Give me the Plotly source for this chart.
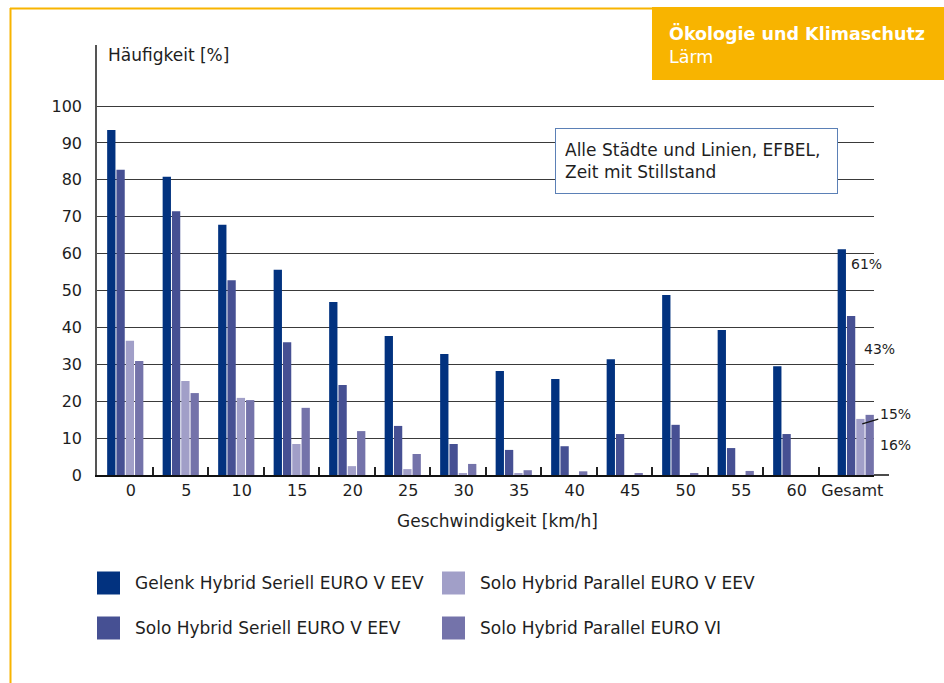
import plotly.graph_objects as go

categories = ["0", "5", "10", "15", "20", "25", "30", "35", "40", "45", "50", "55", "60", "Gesamt"]
series_names = [
    "Gelenk Hybrid Seriell EURO V EEV",
    "Solo Hybrid Seriell EURO V EEV",
    "Solo Hybrid Parallel EURO V EEV",
    "Solo Hybrid Parallel EURO VI",
]
gelenk_seriell = [93.5, 80.8, 67.8, 55.6, 46.9, 37.7, 32.8, 28.2, 26.0, 31.4, 48.8, 39.3, 29.5, 61.2]
solo_seriell = [82.7, 71.5, 52.8, 36.0, 24.4, 13.3, 8.4, 6.8, 7.8, 11.1, 13.6, 7.3, 11.1, 43.1]
solo_parallel_eev = [36.4, 25.5, 20.9, 8.4, 2.4, 1.6, 0.5, 0.3, 0.0, 0.0, 0.0, 0.0, 0.0, 15.2]
solo_parallel_vi = [30.9, 22.2, 20.3, 18.2, 11.9, 5.7, 3.0, 1.3, 1.0, 0.4, 0.5, 1.1, 0.0, 16.3]
series_values = [gelenk_seriell, solo_seriell, solo_parallel_eev, solo_parallel_vi]
colors = ["#02327F", "#465093", "#A19FC8", "#7473AA"]
total_labels = ["61%", "43%", "15%", "16%"]
y_ticks = [0, 10, 20, 30, 40, 50, 60, 70, 80, 90, 100]

W, H = 944, 683
L, R, T, B = 97, 874, 45, 475
FONT = "DejaVu Sans"
TXT = "#1e1e1e"
YEL = "#F8B400"

# bar geometry (category units)
CAT_PX = (R - L) / len(categories)
BAR_W = 8.3 / CAT_PX
BAR_PITCH = 9.3 / CAT_PX
GROUP_START = -17.6 / CAT_PX
TOTAL_SHIFT = 9.0 / CAT_PX  # the "Gesamt" group sits slightly to the right


def px(x):
    return (x - L) / (R - L)


def py(y):
    return (B - y) / (B - T)


fig = go.Figure()
for i, (name, vals, col) in enumerate(zip(series_names, series_values, colors)):
    offs = [GROUP_START + i * BAR_PITCH + (TOTAL_SHIFT if c == "Gesamt" else 0.0) for c in categories]
    fig.add_trace(go.Bar(x=categories, y=vals, name=name, marker_color=col, width=BAR_W, offset=offs,
                         marker_line_width=0, showlegend=False))

fig.update_layout(
    width=W, height=H,
    margin=dict(l=L, r=W - R, t=T, b=H - B, autoexpand=False),
    paper_bgcolor="white", plot_bgcolor="white",
    font=dict(family=FONT, size=16, color=TXT),
    barmode="group",
    xaxis=dict(type="category", range=[-0.5, len(categories) - 0.5], showgrid=False, showline=True,
               linecolor="#111", linewidth=1.5,
               ticks="inside", tickson="boundaries", ticklen=8, tickcolor="#222", tickwidth=1.5,
               ticklabelshift=6, tickangle=0, automargin=False,
               tickfont=dict(size=16, color=TXT), zeroline=False),
    yaxis=dict(range=[0, (B - T) / ((B - 106) / 100)], tickvals=y_ticks, showgrid=True,
               gridcolor="#3a3a3a", gridwidth=1.2, showline=True, linecolor="#555", linewidth=1.5,
               ticks="", ticklabelstandoff=10, automargin=False,
               tickfont=dict(size=16, color=TXT), zeroline=False),
)

shapes = []
ann = []
# yellow frame
shapes.append(dict(type="line", xref="paper", yref="paper", x0=px(10), x1=px(652), y0=py(8.5), y1=py(8.5),
                   line=dict(color=YEL, width=2)))
shapes.append(dict(type="line", xref="paper", yref="paper", x0=px(10.5), x1=px(10.5), y0=py(8), y1=py(690),
                   line=dict(color=YEL, width=2)))
# header box
shapes.append(dict(type="rect", xref="paper", yref="paper", x0=px(652), x1=px(950), y0=py(7), y1=py(80),
                   fillcolor=YEL, line=dict(width=0)))
ann.append(dict(xref="paper", yref="paper", x=px(667), y=py(33), xanchor="left", yanchor="middle",
                text="<b>Ökologie und Klimaschutz</b>", showarrow=False,
                font=dict(size=17.5, color="white", family=FONT)))
ann.append(dict(xref="paper", yref="paper", x=px(667), y=py(57), xanchor="left", yanchor="middle",
                text="Lärm", showarrow=False, font=dict(size=17.5, color="white", family=FONT)))
# x-axis line extension
shapes.append(dict(type="line", xref="paper", yref="paper", x0=1, x1=px(889), y0=0, y1=0,
                   line=dict(color="#111", width=1.5)))
# y axis title
ann.append(dict(xref="paper", yref="paper", x=px(106), y=py(55), xanchor="left", yanchor="middle",
                text="Häufigkeit [%]", showarrow=False, font=dict(size=17, color=TXT)))
# x axis title
ann.append(dict(xref="paper", yref="paper", x=px(497), y=py(521), xanchor="center", yanchor="middle",
                text="Geschwindigkeit [km/h]", showarrow=False, font=dict(size=17, color=TXT)))
# info box
ann.append(dict(xref="paper", yref="paper", x=px(555), y=py(128), xanchor="left", yanchor="top",
                text="Alle Städte und Linien, EFBEL,<br>Zeit mit Stillstand", align="left",
                showarrow=False, bgcolor="white", bordercolor="#5B80B6", borderwidth=1,
                borderpad=9, width=263, height=46, font=dict(size=17, color=TXT)))
# total value labels
ann.append(dict(x="Gesamt", y=series_values[0][-1], xref="x", yref="y", xshift=20, yshift=-15,
                text=total_labels[0], showarrow=False, font=dict(size=14, color=TXT)))
ann.append(dict(x="Gesamt", y=series_values[1][-1], xref="x", yref="y", xshift=33, yshift=-33,
                text=total_labels[1], showarrow=False, font=dict(size=14, color=TXT)))
ann.append(dict(x="Gesamt", y=series_values[2][-1], xref="x", yref="y", xshift=16, yshift=-5,
                text=total_labels[2], showarrow=True, arrowhead=0, arrowwidth=1.2, arrowcolor="#111",
                ax=33, ay=-10, font=dict(size=14, color=TXT)))
ann.append(dict(x="Gesamt", y=series_values[3][-1], xref="x", yref="y", xshift=49, yshift=-30,
                text=total_labels[3], showarrow=False, font=dict(size=14, color=TXT)))
# legend
leg_pos = [(97, 583), (97, 628), (442, 583), (442, 628)]
for (lx, ly), name, col in zip(leg_pos, series_names, colors):
    shapes.append(dict(type="rect", xref="paper", yref="paper", x0=px(lx), x1=px(lx + 23),
                       y0=py(ly - 11.5), y1=py(ly + 11.5), fillcolor=col, line=dict(width=0)))
    ann.append(dict(xref="paper", yref="paper", x=px(lx + 36), y=py(ly), xanchor="left", yanchor="middle",
                    text=name, showarrow=False, font=dict(size=17, color=TXT)))

fig.update_layout(shapes=shapes, annotations=ann)
fig.write_html("out.html", config={"displayModeBar": False},
               post_script="document.body.style.margin='0';document.body.style.overflow='hidden';")
